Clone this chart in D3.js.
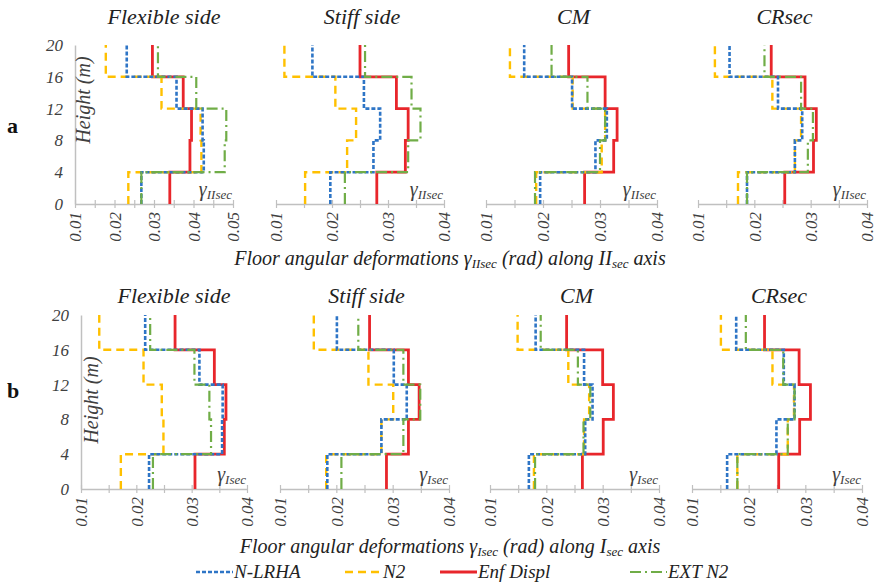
<!DOCTYPE html>
<html>
<head>
<meta charset="utf-8">
<script src="https://cdn.jsdelivr.net/npm/d3@7"></script>
<style>
  body { margin: 0; background: #fff; }
</style>
</head>
<body>
<svg id="chart" width="878" height="586"></svg>
<script>
// storey levels (m) and the series shown
const storeyLevels = [0, 4, 8, 12, 16, 20];
const seriesNames = ["N-LRHA", "N2", "Enf Displ", "EXT N2"];
const panelTitles = ["Flexible side", "Stiff side", "CM", "CRsec"];
const heightTicks = [0, 4, 8, 12, 16, 20];

// row a : gamma IIsec, one array per panel, storey 1 -> 5
const nlrhaII = [
  [0.0268, 0.0426, 0.0423, 0.0357, 0.0231],
  [0.0197, 0.0274, 0.0286, 0.0257, 0.0165],
  [0.0195, 0.0292, 0.0312, 0.0251, 0.0167],
  [0.0187, 0.0272, 0.0285, 0.0242, 0.0156]
];
const n2II = [
  [0.0235, 0.0420, 0.0418, 0.0319, 0.0178],
  [0.0152, 0.0227, 0.0243, 0.0206, 0.0115],
  [0.0188, 0.0303, 0.0309, 0.0252, 0.0142],
  [0.0171, 0.0272, 0.0283, 0.0232, 0.0130]
];
const enfII = [
  [0.0340, 0.0391, 0.0395, 0.0374, 0.0296],
  [0.0280, 0.0331, 0.0336, 0.0315, 0.0250],
  [0.0273, 0.0324, 0.0330, 0.0309, 0.0245],
  [0.0254, 0.0305, 0.0310, 0.0290, 0.0230]
];
const extN2II = [
  [0.0268, 0.0479, 0.0483, 0.0407, 0.0310],
  [0.0223, 0.0336, 0.0358, 0.0342, 0.0259],
  [0.0186, 0.0300, 0.0309, 0.0278, 0.0215],
  [0.0187, 0.0295, 0.0304, 0.0283, 0.0218]
];

// row b : gamma Isec
const nlrhaI = [
  [0.0223, 0.0355, 0.0356, 0.0314, 0.0216],
  [0.0184, 0.0280, 0.0325, 0.0302, 0.0201],
  [0.0169, 0.0269, 0.0282, 0.0267, 0.0181],
  [0.0162, 0.0249, 0.0281, 0.0262, 0.0178]
];
const n2I = [
  [0.0172, 0.0249, 0.0246, 0.0213, 0.0133],
  [0.0182, 0.0280, 0.0301, 0.0257, 0.0160],
  [0.0178, 0.0267, 0.0276, 0.0239, 0.0149],
  [0.0180, 0.0269, 0.0280, 0.0242, 0.0151]
];
const enfI = [
  [0.0306, 0.0359, 0.0362, 0.0341, 0.0270],
  [0.0289, 0.0328, 0.0347, 0.0328, 0.0259],
  [0.0264, 0.0301, 0.0319, 0.0300, 0.0236],
  [0.0253, 0.0290, 0.0309, 0.0289, 0.0228]
];
const extN2I = [
  [0.0230, 0.0335, 0.0332, 0.0305, 0.0225],
  [0.0209, 0.0319, 0.0349, 0.0319, 0.0239],
  [0.0180, 0.0266, 0.0278, 0.0256, 0.0190],
  [0.0180, 0.0269, 0.0281, 0.0261, 0.0195]
];

const xDomainsII = [[0.01, 0.05], [0.01, 0.04], [0.01, 0.04], [0.01, 0.04]];
const xDomainsI = [[0.01, 0.04], [0.01, 0.04], [0.01, 0.04], [0.01, 0.04]];

const FONT = "Liberation Serif";

// look of each series
const styles = {
  "N-LRHA":    { color: "#2e75c6", width: 2.6, dash: "4,2" },
  "N2":        { color: "#ffc000", width: 2.4, dash: "8,5" },
  "Enf Displ": { color: "#e8262b", width: 2.8, dash: null },
  "EXT N2":    { color: "#70ad47", width: 2.2, dash: "11,4,2,4" }
};
const drawOrder = ["Enf Displ", "N2", "N-LRHA", "EXT N2"];

const rows = [
  { label: "a", sub: "II", domains: xDomainsII, top: 45, bottom: 204,
    xs: [[75, 233], [276, 444], [486, 657], [698, 867]],
    series: { "N-LRHA": nlrhaII, "N2": n2II, "Enf Displ": enfII, "EXT N2": extN2II },
    titleY: 24, labelY: 133, axisTitleY: 265, heightX: 90, heightY: 100 },
  { label: "b", sub: "I", domains: xDomainsI, top: 315, bottom: 489,
    xs: [[81, 247], [280, 449], [490, 659], [692, 862]],
    series: { "N-LRHA": nlrhaI, "N2": n2I, "Enf Displ": enfI, "EXT N2": extN2I },
    titleY: 303, labelY: 398, axisTitleY: 553, heightX: 98, heightY: 400 }
];

const svg = d3.select("#chart")
  .attr("font-family", FONT)
  .attr("font-style", "italic");
const axisGray = "#c0c0c0";
const textGray = "#404040";

// step profile: value constant along each storey
function stepPoints(vals) {
  const pts = [];
  vals.forEach((v, i) => {
    pts.push([v, storeyLevels[i]]);
    pts.push([v, storeyLevels[i + 1]]);
  });
  return pts;
}

rows.forEach(row => {
  const y = d3.scaleLinear().domain([0, 20]).range([row.bottom, row.top]);

  row.xs.forEach((xr, p) => {
    const dom = row.domains[p];
    const x = d3.scaleLinear().domain(dom).range(xr);
    const g = svg.append("g");

    // x axis with cross ticks every 0.005
    const tv = d3.range(Math.round(dom[0] * 200), Math.round(dom[1] * 200) + 1).map(k => k / 200);
    const ax = g.append("g")
      .attr("transform", `translate(0,${row.bottom})`)
      .call(d3.axisBottom(x).tickValues(tv).tickSizeOuter(0).tickSizeInner(4)
        .tickFormat(d => (Math.round(d * 200) % 2 === 0 ? d3.format(".2f")(d) : "")));
    ax.attr("font-family", FONT);
    ax.select(".domain").attr("stroke", axisGray).attr("stroke-width", 1.5);
    ax.selectAll(".tick line").attr("stroke", axisGray).attr("stroke-width", 1.2).attr("y1", -4);
    ax.selectAll(".tick text")
      .attr("fill", textGray)
      .attr("font-size", 17)
      .attr("transform", "rotate(-90)")
      .attr("text-anchor", "end")
      .attr("dy", "0.35em")
      .attr("x", -8)
      .attr("y", 0);

    if (p === 0) {
      const ay = g.append("g")
        .attr("transform", `translate(${xr[0]},0)`)
        .call(d3.axisLeft(y).tickValues(heightTicks).tickSize(0).tickPadding(12));
      ay.attr("font-family", FONT);
      ay.select(".domain").attr("stroke", axisGray).attr("stroke-width", 1.5);
      ay.selectAll(".tick text").attr("fill", textGray).attr("font-size", 17);

      g.append("text")
        .attr("transform", `translate(${row.heightX},${row.heightY}) rotate(-90)`)
        .attr("text-anchor", "middle")
        .attr("fill", textGray)
        .attr("font-size", 20)
        .text("Height (m)");
    }

    // panel title
    g.append("text")
      .attr("x", (xr[0] + xr[1]) / 2 + (p === 0 ? 10 : 2))
      .attr("y", row.titleY)
      .attr("text-anchor", "middle")
      .attr("fill", "#222")
      .attr("font-size", 22)
      .text(panelTitles[p]);

    // gamma label
    const gl = g.append("text")
      .attr("x", xr[1] - 1)
      .attr("y", row.bottom - 8)
      .attr("text-anchor", "end")
      .attr("fill", textGray)
      .attr("font-size", 20);
    gl.append("tspan").text("γ");
    gl.append("tspan").attr("dy", 3).attr("font-size", 13).text(row.sub + "sec");

    // series
    const line = d3.line().x(d => x(d[0])).y(d => y(d[1]));
    drawOrder.forEach(name => {
      const st = styles[name];
      g.append("path")
        .attr("d", line(stepPoints(row.series[name][p])))
        .attr("fill", "none")
        .attr("stroke", st.color)
        .attr("stroke-width", st.width)
        .attr("stroke-dasharray", st.dash);
    });
  });

  // row letter
  svg.append("text")
    .attr("x", 7)
    .attr("y", row.labelY)
    .attr("font-style", "normal")
    .attr("font-weight", "bold")
    .attr("font-size", 22)
    .attr("fill", "#111")
    .text(row.label);

  // axis title
  const t = svg.append("text")
    .attr("x", 450)
    .attr("y", row.axisTitleY)
    .attr("text-anchor", "middle")
    .attr("fill", "#222")
    .attr("font-size", 20);
  t.append("tspan").text("Floor angular deformations  γ");
  t.append("tspan").attr("dy", 3).attr("font-size", 13).text(row.sub + "sec");
  t.append("tspan").attr("dy", -3).text(" (rad) along " + row.sub);
  t.append("tspan").attr("dy", 3).attr("font-size", 13).text("sec");
  t.append("tspan").attr("dy", -3).text(" axis");
});

// legend
const legendX = [196, 345, 440, 630];
const legend = svg.append("g").attr("transform", "translate(0,572)");
seriesNames.forEach((name, i) => {
  const st = styles[name];
  legend.append("line")
    .attr("x1", legendX[i]).attr("x2", legendX[i] + 37)
    .attr("stroke", st.color)
    .attr("stroke-width", st.width)
    .attr("stroke-dasharray", st.dash);
  legend.append("text")
    .attr("x", legendX[i] + 38)
    .attr("y", 6)
    .attr("fill", "#222")
    .attr("font-size", 19)
    .text(name);
});
</script>
</body>
</html>
